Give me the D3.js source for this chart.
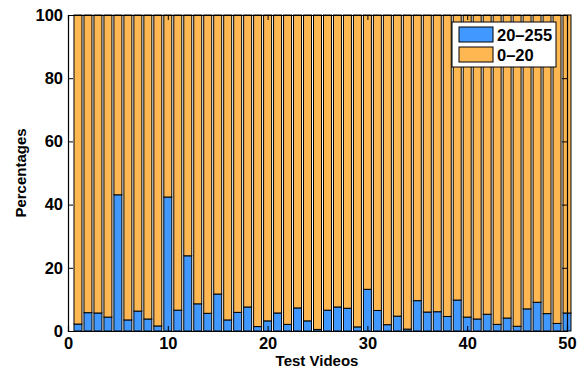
<!DOCTYPE html>
<html><head><meta charset="utf-8">
<script src="https://cdn.jsdelivr.net/npm/d3@7"></script>
<style>
body{margin:0;background:#fff;}
text{font-family:"Liberation Sans",Arial,Helvetica,sans-serif;font-weight:bold;}
</style></head>
<body>
<svg id="c" width="580" height="368"></svg>
<script>
const videos = d3.range(1, 51);
const high = [2.2,5.8,5.7,4.4,43.1,3.5,6.3,3.8,1.6,42.4,
              6.6,23.8,8.6,5.6,11.7,3.5,5.9,7.6,1.4,3.2,
              5.7,2.1,7.3,3.2,0.5,6.6,7.6,7.2,1.3,13.2,
              6.5,2.0,4.7,0.6,9.6,6.0,6.1,4.6,9.8,4.4,
              3.8,5.3,2.1,4.1,1.5,7.0,9.1,5.5,2.4,5.7];
const low = high.map(v => 100 - v);
const seriesNames = ["20\u2013255", "0\u201320"];
const colors = ["#4199ff", "#ffb752"];
const xTicks = [0,10,20,30,40,50];
const yTicks = [0,20,40,60,80,100];

const svg = d3.select("#c");
const L = 68, R = 567, T = 15, B = 331;
const x = d3.scaleLinear().domain([0,50]).range([L,R]);
const y = d3.scaleLinear().domain([0,100]).range([B,T]);
const bw = (x(1)-x(0))*0.8;

const data = videos.map((v,i)=>({v, high: high[i], low: low[i]}));
const stack = d3.stack().keys(["high","low"])(data);

const g = svg.append("g");
stack.forEach((s, si) => {
  g.selectAll(null).data(s).enter().append("rect")
    .attr("x", d => x(d.data.v) - bw/2)
    .attr("y", d => y(d[1]))
    .attr("width", bw)
    .attr("height", d => y(d[0]) - y(d[1]))
    .attr("fill", colors[si])
    .attr("stroke", "#000")
    .attr("stroke-width", 1);
});

// axes
const ax = svg.append("g").attr("transform", `translate(0,${B})`)
  .call(d3.axisBottom(x).tickValues(xTicks).tickSize(-5).tickPadding(4));
const ay = svg.append("g").attr("transform", `translate(${L},0)`)
  .call(d3.axisLeft(y).tickValues(yTicks).tickSize(-5).tickPadding(5));
const ar = svg.append("g").attr("transform", `translate(${R},0)`)
  .call(d3.axisRight(y).tickValues(yTicks).tickSize(-5).tickFormat(""));
const at = svg.append("g").attr("transform", `translate(0,${T})`)
  .call(d3.axisTop(x).tickValues(xTicks).tickSize(-5).tickFormat(""));
[ax,ay,ar,at].forEach(a => {
  a.selectAll(".domain").attr("stroke","#000").attr("stroke-width",1.2);
  a.selectAll(".tick line").attr("stroke","#000");
  a.selectAll("text").attr("font-size",16.5).attr("fill","#000")
    .style("font-family","'Liberation Sans',Arial,sans-serif").style("font-weight","bold");
});
ax.selectAll("text").attr("dy","0.85em");

svg.append("text").attr("x", 317).attr("y", 366).attr("text-anchor","middle")
  .attr("font-size",15).text("Test Videos");
svg.append("text").attr("transform", `translate(26,${(T+B)/2}) rotate(-90)`)
  .attr("text-anchor","middle").attr("font-size",15).text("Percentages");

// legend
const lg = svg.append("g").attr("transform","translate(452,22)");
lg.append("rect").attr("width",104).attr("height",45).attr("fill","#fff").attr("stroke","#000");
seriesNames.forEach((n,i)=>{
  lg.append("rect").attr("x",7).attr("y",5+i*20).attr("width",34).attr("height",15)
    .attr("fill",colors[i]).attr("stroke","#000");
  lg.append("text").attr("x",45).attr("y",19+i*20).attr("font-size",16.5).text(n);
});
</script>
</body></html>
